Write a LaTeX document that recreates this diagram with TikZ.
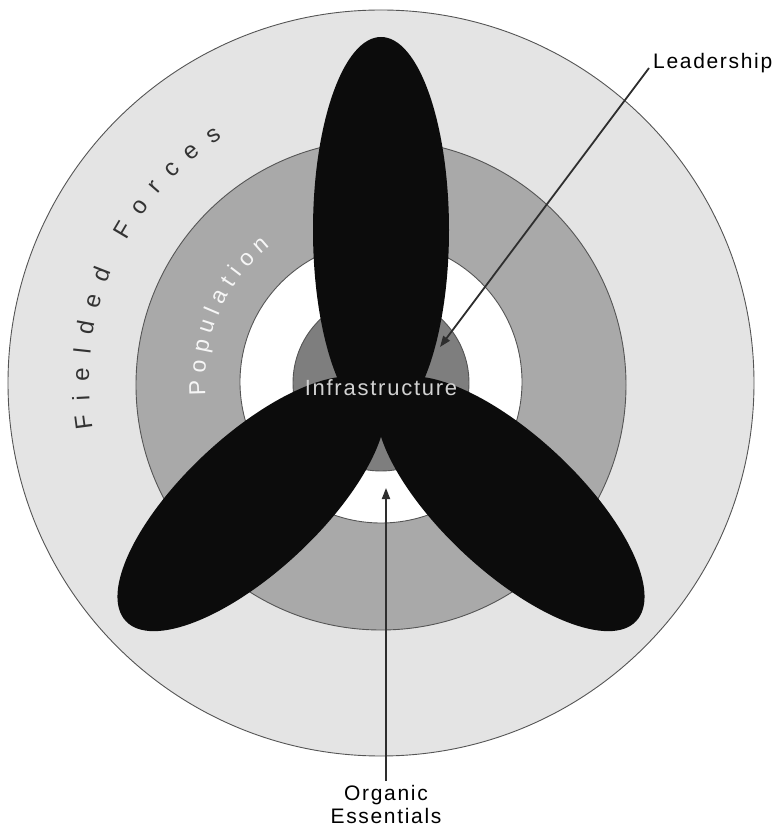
\documentclass[tikz,border=0pt]{standalone}
\usepackage{fontspec}
\setmainfont{Liberation Sans}
\newfontfamily\labfont[LetterSpace=8]{Liberation Sans}
\newfontfamily\arcfont{Liberation Sans}
\usetikzlibrary{arrows.meta,decorations.text}
\definecolor{ringouter}{HTML}{E4E4E4}
\definecolor{ringmid}{HTML}{A9A9A9}
\definecolor{ringcore}{HTML}{7E7E7E}
\definecolor{petal}{HTML}{0C0C0C}
\definecolor{edgegray}{HTML}{555555}
\definecolor{arrowgray}{HTML}{2E2E2E}
\definecolor{infratext}{HTML}{D2D2D2}
\definecolor{fftext}{HTML}{333333}
\definecolor{poptext}{HTML}{F6F6F6}
\tikzset{
  ring/.style={draw=edgegray, line width=0.9pt},
  petalfill/.style={fill=petal},
  lbl/.style={font=\labfont\fontsize{21}{23}\selectfont, text=black, inner sep=0pt},
  pointer/.style={draw=arrowgray, line width=1.8pt, -{Triangle[length=11pt,width=8pt]}},
}
\begin{document}
\begin{tikzpicture}[x=1pt,y=1pt]
\useasboundingbox (-381,-446) rectangle (401,383);
% rings
\filldraw[ring, fill=ringouter] (0,0) circle [radius=373];
\filldraw[ring, fill=ringmid] (0,-2) circle [radius=245];
\filldraw[ring, fill=white] (0,1) circle [radius=141];
\filldraw[ring, fill=ringcore] (0,0) circle [radius=88];
% curved labels
\path[decorate, decoration={text along path, text align={fit to path},
  text={|\arcfont\fontsize{24}{24}\selectfont\color{fftext}|Fielded Forces}}]
  (189:292) arc [start angle=189, end angle=123, radius=292];
\path[decorate, decoration={text along path, text align={fit to path},
  text={|\arcfont\fontsize{23}{23}\selectfont\color{poptext}|Population}}]
  (184:176) arc [start angle=184, end angle=129, radius=176];
% petals
\fill[petalfill] (0,153) ellipse [x radius=68, y radius=193];
\fill[petalfill, rotate=-43] (177,0) ellipse [x radius=172, y radius=68];
\fill[petalfill, rotate=223] (177,0) ellipse [x radius=172, y radius=68];
% centre label
\node[lbl, text=infratext, font=\labfont\fontsize{22}{23}\selectfont] (infra) at (0,-5) {Infrastructure};
% outside labels
\node[lbl, anchor=base west] (lead) at (272,314) {Leadership};
\node[lbl, anchor=north, align=center] (org) at (5,-402) {Organic\\Essentials};
\coordinate (leadtip) at (59,36);
\coordinate (orgtip) at (5,-105);
\draw[pointer] ([xshift=-4pt,yshift=1pt]lead.base west) -- (leadtip);
\draw[pointer] ([yshift=4pt]org.north) -- (orgtip);
\end{tikzpicture}
\end{document}
